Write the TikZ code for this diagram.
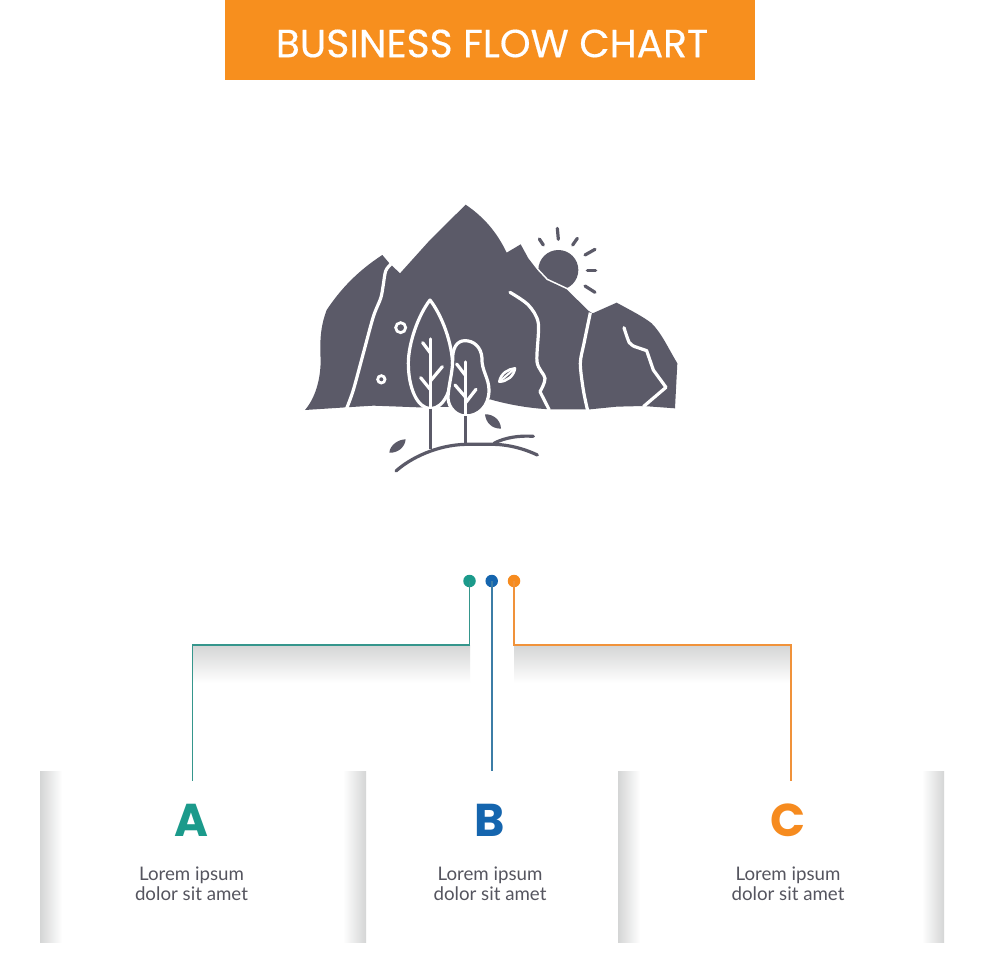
\documentclass[tikz,border=0pt]{standalone}
\usepackage{fontspec}
\setmainfont{Lato}
\newfontfamily\headfont{Poppins}[FakeBold=0.4]
\newfontfamily\letterfont{Poppins}[BoldFont={Poppins Bold}]
\definecolor{hdr}{HTML}{F78F1E}
\definecolor{teal}{HTML}{1B9A8B}
\definecolor{tealline}{HTML}{35968C}
\definecolor{blu}{HTML}{1565AE}
\definecolor{bluline}{HTML}{3C7DA6}
\definecolor{org}{HTML}{F68B1F}
\definecolor{orgline}{HTML}{F0923A}
\definecolor{ink}{HTML}{5B5A68}
\definecolor{txt}{HTML}{55555F}
\definecolor{shadegray}{HTML}{D4D5D5}
\definecolor{shademid}{HTML}{F0F0F0}
\tikzset{
  dot/.style={circle,inner sep=0pt,minimum size=12.5pt},
  wire/.style={line width=1.9pt,line join=miter},
  letter/.style={font=\letterfont\fontsize{46}{46}\selectfont\bfseries,inner sep=0pt},
  body/.style={font=\fontsize{18.7}{20.4}\selectfont,text=txt,align=center,inner sep=0pt},
  wline/.style={draw=white,line width=3.2pt,line cap=round,line join=round},
  dline/.style={draw=ink,line width=3.2pt,line cap=round,line join=round},
  crown/.style={fill=ink,draw=white,line width=3.2pt,line join=round},
  fadeL/.style={left color=shadegray,middle color=shademid,right color=white},
  fadeR/.style={left color=white,middle color=shademid,right color=shadegray},
  fadeT/.style={top color=shadegray,middle color=shademid,bottom color=white},
}
\begin{document}
\begin{tikzpicture}[x=1pt,y=-1pt]
\useasboundingbox (0,0) rectangle (980,980);
\fill[white] (0,0) rectangle (980,980);
% header
\fill[hdr] (225,0) rectangle (755,80);
\node (title) at (492,43.5) [text=white,inner sep=0pt,font=\headfont\fontsize{39.2}{39.2}\selectfont] {BUSINESS FLOW CHART};
% panels
\shade[fadeL] (40,771) rectangle (62,942);
\shade[fadeR] (343,771) rectangle (366,942);
\shade[fadeL] (618,771) rectangle (640,942);
\shade[fadeR] (922,771) rectangle (944,942);
% bands
\shade[fadeT] (192,645) rectangle (470,683);
\shade[fadeT] (514,645) rectangle (791,683);
% connectors
\node[dot,fill=teal] (d1) at (469.5,581) {};
\node[dot,fill=blu] (d2) at (491.7,581) {};
\node[dot,fill=org] (d3) at (514,581) {};
\coordinate (e1) at (192.5,781);
\coordinate (e2) at (491.7,771);
\coordinate (e3) at (791,781);
\draw[wire,tealline] (d1.center) -- (469.5,645) -- (192.5,645) -- (e1);
\draw[wire,bluline] (d2.center) -- (e2);
\draw[wire,orgline] (d3.center) -- (514,645) -- (791,645) -- (e3);
% labels
\node[letter,text=teal] (A) at (191.5,820) {A};
\node[letter,text=blu] (B) at (490,820) {B};
\node[letter,text=org] (C) at (788,820) {C};
\node[body] (ta) at (191.5,884) {Lorem ipsum\\dolor sit amet};
\node[body] (tb) at (490,884) {Lorem ipsum\\dolor sit amet};
\node[body] (tc) at (788,884) {Lorem ipsum\\dolor sit amet};
% icon
\begin{scope}[shift={(290pt,-190pt)},x=0.33333pt,y=-0.33333pt]
  % sun and rays
  \fill[ink] (805,240) circle (60);
  \foreach \a/\b/\c/\d in {802/115/805/148,748/147/760/165,862/145/848/165,915/178/885/195,892/241/917/241,885/288/915/307}
    \draw[dline] (\a,\b) -- (\c,\d);
  % mountains
  \fill[ink,draw=white,line width=3.2pt,line join=round] (742,240) -- (770,270) -- (830,298) -- (895,362) -- (742,400) -- cycle;
  \fill[ink] (45,660) .. controls (75,625) and (92,570) .. (92,510) .. controls (88,440) and (95,400) .. (110,360) .. controls (150,300) and (200,245) .. (277,195) -- (300,222) -- (307,228) -- (330,250) -- (420,150) -- (527,44) .. controls (580,80) and (620,125) .. (650,188) -- (692,163) -- (715,205) -- (742,240) -- (770,270) -- (830,298) -- (895,362) -- (908,370) -- (980,338) .. controls (1020,360) and (1060,380) .. (1085,400) .. controls (1115,430) and (1135,475) .. (1162,520) -- (1155,655) -- (1060,648) -- (980,650) -- (900,658) -- (780,658) .. controls (720,655) and (660,645) .. (600,628) -- (500,650) -- (385,652) -- (250,647) -- (168,652) -- cycle;
  % cracks
  \draw[wline,line cap=butt] plot[smooth,tension=.5] coordinates {(303,222) (287,243) (279,290) (272,325) (250,380) (220,490) (190,600) (170,655)};
  \draw[wline] plot[smooth,tension=.5] coordinates {(660,307) (715,345) (745,400) (741,515) (765,565) (750,605)};
  \draw[wline,line cap=butt] (750,605) -- (778,660);
  \draw[wline,line cap=butt] plot[smooth,tension=.5] coordinates {(901,368) (882,460) (871,520) (880,600) (893,662)};
  \draw[wline] plot[smooth,tension=.5] coordinates {(1002,413) (1018,458) (1035,470)};
  \draw[wline,line join=round] (1035,470) -- (1070,482) -- (1090,540) -- (1128,592);
  \draw[wline,line cap=butt] (1128,592) -- (1060,650);
  % rings
  \draw[white,line width=2.8pt] (332,413) circle (15);
  \draw[white,line width=2.8pt] (274,568) circle (11);
  % white leaf
  \draw[white,line width=2.6pt,line join=round] (628,575) .. controls (632,550) and (655,537) .. (675,535) .. controls (672,558) and (650,575) .. cycle;
  \draw[white,line width=2pt] (628,575) -- (675,535);
  % tree one
  \draw[crown] (420,330) .. controls (385,375) and (355,460) .. (355,520) .. controls (355,590) and (380,655) .. (422,656) .. controls (465,655) and (488,590) .. (488,530) .. controls (488,460) and (455,375) .. cycle;
  \draw[wline] (422,447) -- (422,656);
  \draw[wline] (398,458) -- (422,490);
  \draw[wline] (457,530) -- (422,572);
  \draw[wline] (392,563) -- (422,600);
  \draw[dline,line cap=butt] (422,656) -- (422,778);
  % tree two
  \draw[crown] (525,452) .. controls (500,452) and (487,475) .. (488,510) .. controls (488,550) and (474,590) .. (474,625) .. controls (476,655) and (500,678) .. (527,678) .. controls (565,678) and (597,650) .. (597,600) .. controls (597,565) and (574,540) .. (576,505) .. controls (574,470) and (550,452) .. cycle;
  \draw[wline] (527,516) -- (527,678);
  \draw[wline] (500,522) -- (527,557);
  \draw[wline] (558,598) -- (527,638);
  \draw[wline] (495,585) -- (527,622);
  \draw[dline,line cap=butt] (527,678) -- (527,762);
  % dark leaves
  \fill[ink] (585,673) .. controls (610,672) and (632,690) .. (633,716) .. controls (605,716) and (588,698) .. cycle;
  \fill[ink] (298,788) .. controls (300,765) and (325,748) .. (347,748) .. controls (345,772) and (322,790) .. cycle;
  % ground
  \draw[dline] (318,843) .. controls (360,805) and (440,765) .. (527,763) -- (600,763) .. controls (650,762) and (700,775) .. (742,795);
  \draw[dline] (612,760) .. controls (645,742) and (690,736) .. (730,739);
\end{scope}
\end{tikzpicture}
\end{document}
